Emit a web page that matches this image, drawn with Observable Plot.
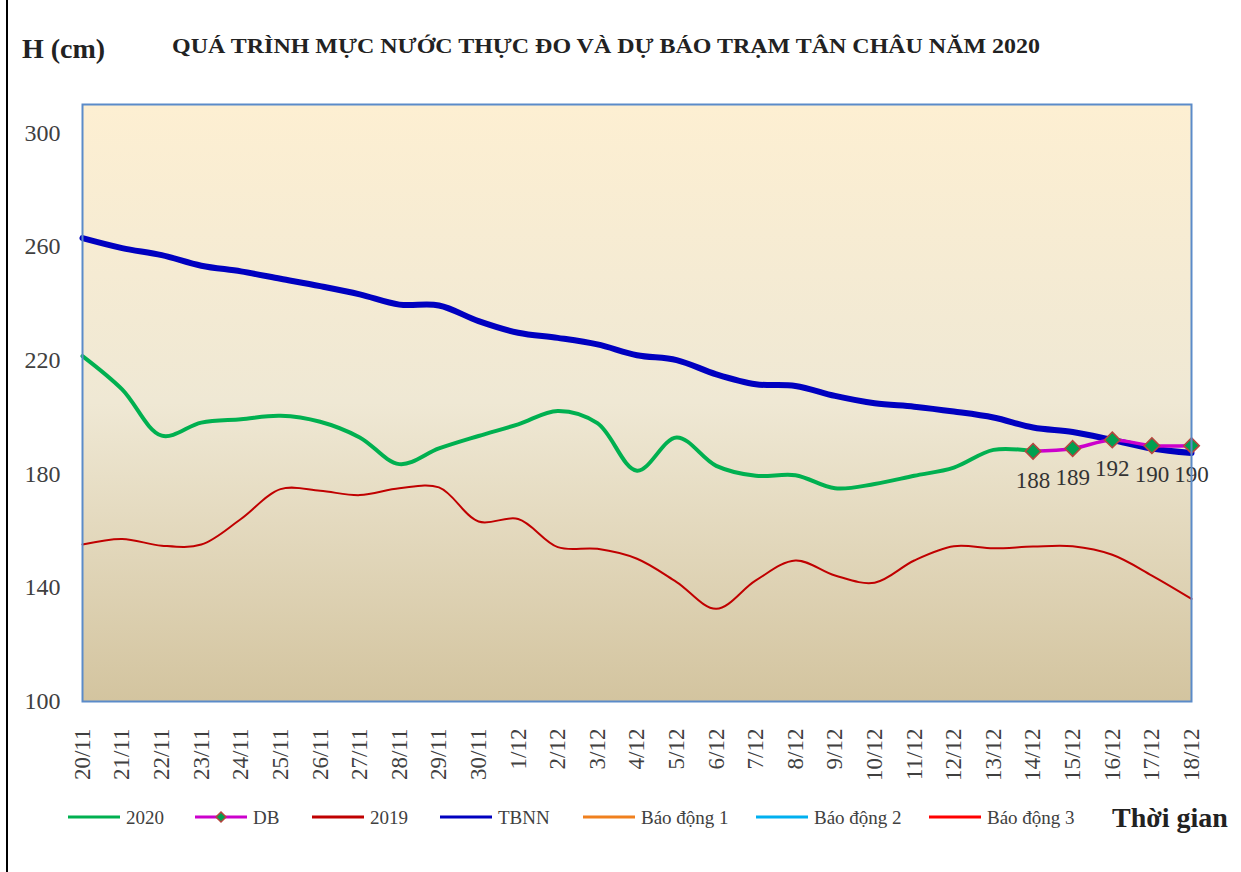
<!DOCTYPE html>
<html>
<head>
<meta charset="utf-8">
<script src="https://cdn.jsdelivr.net/npm/d3@7"></script>
<script src="https://cdn.jsdelivr.net/npm/@observablehq/plot@0.6"></script>
<style>
  html, body { margin: 0; padding: 0; background: #fff; }
  #wrap { position: relative; width: 1241px; height: 872px; overflow: hidden; background: #fff; }
  #leftline { position: absolute; left: 6px; top: 0; width: 2px; height: 872px; background: #000; }
  #chart { position: absolute; left: 0; top: 0; }
  #overlay { position: absolute; left: 0; top: 0; }
</style>
</head>
<body>
<div id="wrap">
  <div id="chart"></div>
  <svg id="overlay" width="1241" height="872"></svg>
  <div id="leftline"></div>
</div>
<script>
// ---- data ----
const dates = ["20/11","21/11","22/11","23/11","24/11","25/11","26/11","27/11","28/11","29/11","30/11",
  "1/12","2/12","3/12","4/12","5/12","6/12","7/12","8/12","9/12","10/12","11/12","12/12","13/12","14/12",
  "15/12","16/12","17/12","18/12"];
const h2020 = [221.5,209.8,193.5,198.1,199.3,200.5,198.4,192.9,183.5,189.0,193.4,
  197.5,202.2,197.9,181.2,192.9,182.9,179.4,179.6,175.0,176.5,179.4,182.3,188.5,188.0];
const dbDates = ["14/12","15/12","16/12","17/12","18/12"];
const db = [188,189,192,190,190];
const h2019 = [155.2,157.2,154.8,155.2,164.2,174.7,174.1,172.6,175.0,175.3,163.3,
  164.2,154.3,153.7,150.2,142.0,132.6,142.6,149.6,144.3,141.8,149.6,154.6,153.9,154.5,
  154.6,151.6,144.3,136.1];
const tbnn = [263.0,259.5,257.0,253.3,251.3,248.7,246.1,243.2,239.6,239.3,233.8,
  229.7,227.9,225.6,221.8,220.1,215.1,211.6,211.0,207.5,204.9,203.7,202.0,199.9,196.4,
  194.8,192.0,189.0,187.4];
const yTicks = [100,140,180,220,260,300];
const seriesNames = ["2020","DB","2019","TBNN","Báo động 1","Báo động 2","Báo động 3"];
const seriesColors = ["#00B050","#CC00CC","#C00000","#0000C0","#F0801E","#00B0F0","#FF0000"];

const rows2020 = h2020.map((v,i)=>({d:dates[i], v}));
const rows2019 = h2019.map((v,i)=>({d:dates[i], v}));
const rowsTbnn = tbnn.map((v,i)=>({d:dates[i], v}));
const rowsDb = db.map((v,i)=>({d:dbDates[i], v}));

const serif = "'Liberation Serif', 'Times New Roman', serif";

const chart = Plot.plot({
  width: 1241,
  height: 800,
  marginLeft: 82,
  marginRight: 50,
  marginTop: 104,
  marginBottom: 99,
  x: {type: "point", domain: dates, padding: 0, round: false},
  y: {domain: [100, 310]},
  style: {fontFamily: serif, background: "transparent", color: "#404040"},
  marks: [
    Plot.frame({fill: "url(#bg)", stroke: "none"}),
    Plot.axisY({ticks: yTicks, tickSize: 0, tickPadding: 22, fontSize: 24, label: null, fill: "#404040"}),
    Plot.axisX({tickRotate: -90, tickSize: 0, tickPadding: 27, fontSize: 23, label: null, fill: "#404040"}),
    Plot.line(rows2019, {x: "d", y: "v", stroke: seriesColors[2], strokeWidth: 2, curve: "catmull-rom"}),
    Plot.line(rowsTbnn, {x: "d", y: "v", stroke: seriesColors[3], strokeWidth: 6, curve: "catmull-rom"}),
    Plot.line(rows2020, {x: "d", y: "v", stroke: seriesColors[0], strokeWidth: 4, curve: "catmull-rom"}),
    Plot.line(rowsDb, {x: "d", y: "v", stroke: seriesColors[1], strokeWidth: 3.5, curve: "catmull-rom"}),
    Plot.dot(rowsDb, {x: "d", y: "v", symbol: "diamond2", r: 7, fill: "#00A050", stroke: "#B5453F", strokeWidth: 1.6}),
    Plot.text(rowsDb, {x: "d", y: "v", text: d => String(d.v), dy: 29, fontSize: 23, fill: "#333"}),
    Plot.frame({stroke: "#5B8BC9", strokeWidth: 2})
  ]
});
// background gradient
const svg = d3.select(chart);
const defs = svg.insert("defs", ":first-child");
const g = defs.append("linearGradient").attr("id", "bg").attr("x1", 0).attr("y1", 0).attr("x2", 0).attr("y2", 1);
g.append("stop").attr("offset", "0%").attr("stop-color", "#FDEFD2");
g.append("stop").attr("offset", "50%").attr("stop-color", "#EFE8D4");
g.append("stop").attr("offset", "100%").attr("stop-color", "#D3C49F");
document.getElementById("chart").appendChild(chart);

// overlay: titles & legend
const ov = d3.select("#overlay");
ov.append("text").attr("x", 22).attr("y", 58).attr("font-family", serif).attr("font-weight", "bold")
  .attr("font-size", 28).attr("fill", "#222").text("H (cm)");
ov.append("text").attr("x", 172).attr("y", 53).attr("font-family", serif).attr("font-weight", "bold")
  .attr("font-size", 20).attr("fill", "#222").attr("textLength", 868).attr("lengthAdjust", "spacingAndGlyphs")
  .text("QUÁ TRÌNH MỰC NƯỚC THỰC ĐO VÀ DỰ BÁO TRẠM TÂN CHÂU NĂM 2020");
ov.append("text").attr("x", 1112).attr("y", 827).attr("font-family", serif).attr("font-weight", "bold")
  .attr("font-size", 28).attr("fill", "#222").text("Thời gian");

const legendX = [68, 195, 312, 440, 583, 756, 929];
const ly = 817;
seriesNames.forEach((name, i) => {
  const x0 = legendX[i];
  ov.append("line").attr("x1", x0).attr("x2", x0 + 52).attr("y1", ly).attr("y2", ly)
    .attr("stroke", seriesColors[i]).attr("stroke-width", 3);
  if (name === "DB") {
    const cx = x0 + 26;
    ov.append("path").attr("d", `M${cx},${ly-5}L${cx+5},${ly}L${cx},${ly+5}L${cx-5},${ly}Z`)
      .attr("fill", "#00A050").attr("stroke", "#B5453F").attr("stroke-width", 1.5);
  }
  ov.append("text").attr("x", x0 + 58).attr("y", ly).attr("dy", "0.35em").attr("font-family", serif)
    .attr("font-size", 19).attr("fill", "#404040").text(name);
});
</script>
</body>
</html>
